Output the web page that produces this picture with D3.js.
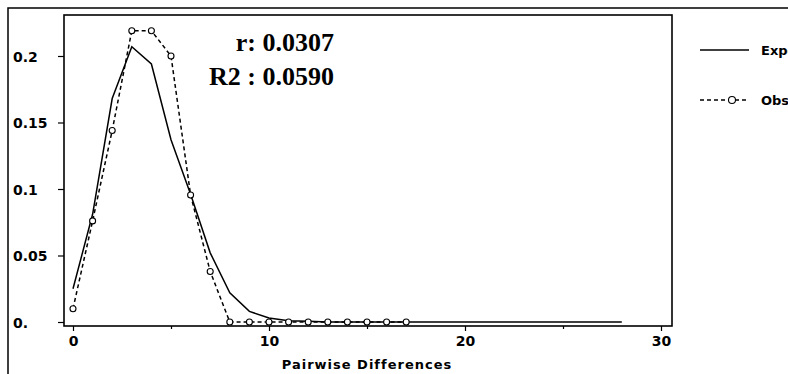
<!DOCTYPE html>
<html>
<head>
<meta charset="utf-8">
<script src="https://cdn.jsdelivr.net/npm/d3@7"></script>
<style>
  html, body { margin: 0; padding: 0; background: #fff; overflow: hidden; }
  svg { display: block; }
  .lbl { font-family: "DejaVu Sans", sans-serif; font-weight: bold; font-size: 14px; fill: #000; }
  .stat { font-family: "Liberation Serif", "Times New Roman", serif; font-weight: bold; font-size: 26px; fill: #000; }
</style>
</head>
<body>
<div id="chart"></div>
<script>
// pairwise differences (mismatch distribution)
var expectedX = d3.range(0, 29);
var expectedY = [0.025, 0.081, 0.168, 0.207, 0.194, 0.137, 0.096, 0.052, 0.022, 0.008,
  0.003, 0.001, 0.0005, 0, 0, 0, 0, 0, 0, 0, 0, 0, 0, 0, 0, 0, 0, 0, 0];
var observedX = d3.range(0, 18);
var observedY = [0.01, 0.076, 0.144, 0.219, 0.219, 0.2, 0.0955, 0.038, 0, 0,
  0, 0, 0, 0, 0, 0, 0, 0];
var yTicks = [0, 0.05, 0.1, 0.15, 0.2];
var yTickLabels = ["0.", "0.05", "0.1", "0.15", "0.2"];
var xTicks = [0, 5, 10, 15, 20, 25, 30];
var xTickLabels = ["0", "", "10", "", "20", "", "30"];
var seriesNames = ["Expected", "Observed"];
var stats = ["r: 0.0307", "R2 : 0.0590"];

var width = 788, height = 374;
var box = { left: 64, top: 15, right: 672, bottom: 326 };

var svg = d3.select("#chart").append("svg")
  .attr("width", width)
  .attr("height", height);

// outer frame (runs off the right / bottom)
svg.append("path")
  .attr("d", "M8," + (height + 5) + "V8H" + (width + 5))
  .attr("fill", "none")
  .attr("stroke", "#000")
  .attr("stroke-width", 1.5);

var x = d3.scaleLinear().domain([0, 30]).range([73, 661]);
var y = d3.scaleLinear().domain([0, 0.2]).range([322, 56]);

// plot box
svg.append("rect")
  .attr("x", box.left)
  .attr("y", box.top)
  .attr("width", box.right - box.left)
  .attr("height", box.bottom - box.top)
  .attr("fill", "#fff")
  .attr("stroke", "#000")
  .attr("stroke-width", 1.6);

// y axis
var yAxis = svg.append("g")
  .attr("transform", "translate(" + box.left + ",0)")
  .call(d3.axisLeft(y).tickValues(yTicks).tickSize(6)
    .tickFormat(function(d, i) { return yTickLabels[i]; }));
yAxis.select(".domain").remove();
yAxis.selectAll("line").attr("stroke", "#000").attr("stroke-width", 1.2);
yAxis.selectAll("text")
  .attr("class", "lbl")
  .attr("font-family", null).attr("font-size", null)
  .attr("text-anchor", "start")
  .attr("x", 13 - box.left)
  .attr("dy", "0.36em");

// x axis
var xAxis = svg.append("g")
  .attr("transform", "translate(0," + box.bottom + ")")
  .call(d3.axisBottom(x).tickValues(xTicks).tickSize(5)
    .tickFormat(function(d, i) { return xTickLabels[i]; }));
xAxis.select(".domain").remove();
xAxis.selectAll("line")
  .attr("stroke", "#000").attr("stroke-width", 1.2)
  .attr("y2", function(d, i) { return i % 2 ? 3 : 5; });
xAxis.selectAll("text")
  .attr("class", "lbl")
  .attr("font-family", null).attr("font-size", null)
  .attr("y", 10)
  .attr("dy", "0.71em");

svg.append("text")
  .attr("class", "lbl")
  .attr("x", 367)
  .attr("y", 369)
  .attr("text-anchor", "middle")
  .style("font-size", "13px")
  .style("letter-spacing", "1px")
  .text("Pairwise Differences");

var line = d3.line()
  .x(function(d) { return x(d[0]); })
  .y(function(d) { return y(d[1]); });

var expData = expectedX.map(function(v, i) { return [v, expectedY[i]]; });
var obsData = observedX.map(function(v, i) { return [v, observedY[i]]; });

svg.append("path")
  .datum(expData)
  .attr("d", line)
  .attr("fill", "none")
  .attr("stroke", "#000")
  .attr("stroke-width", 1.5);

svg.append("path")
  .datum(obsData)
  .attr("d", line)
  .attr("fill", "none")
  .attr("stroke", "#000")
  .attr("stroke-width", 1.5)
  .attr("stroke-dasharray", "4,3");

svg.selectAll(".obs")
  .data(obsData)
  .enter().append("circle")
  .attr("class", "obs")
  .attr("cx", function(d) { return x(d[0]); })
  .attr("cy", function(d) { return y(d[1]); })
  .attr("r", 3)
  .attr("fill", "#fff")
  .attr("stroke", "#000")
  .attr("stroke-width", 1.1);

// r / R2 text
svg.selectAll(".stat")
  .data(stats)
  .enter().append("text")
  .attr("class", "stat")
  .attr("x", 334)
  .attr("y", function(d, i) { return 51 + i * 34; })
  .attr("text-anchor", "end")
  .text(function(d) { return d; });

// legend (labels run past the right edge, as in the original)
var legend = svg.selectAll(".leg")
  .data(seriesNames)
  .enter().append("g")
  .attr("class", "leg")
  .attr("transform", function(d, i) { return "translate(0," + (50 + i * 50) + ")"; });

legend.append("line")
  .attr("x1", 700).attr("x2", 749)
  .attr("stroke", "#000")
  .attr("stroke-width", 1.3)
  .attr("stroke-dasharray", function(d, i) { return i ? "4,3" : null; });

legend.filter(function(d, i) { return i === 1; })
  .append("circle")
  .attr("cx", 732).attr("r", 3.5)
  .attr("fill", "#fff").attr("stroke", "#000").attr("stroke-width", 1.1);

legend.append("text")
  .attr("class", "lbl")
  .attr("x", 761)
  .attr("dy", "0.36em")
  .style("font-size", "13px")
  .text(function(d) { return d; });
</script>
</body>
</html>
